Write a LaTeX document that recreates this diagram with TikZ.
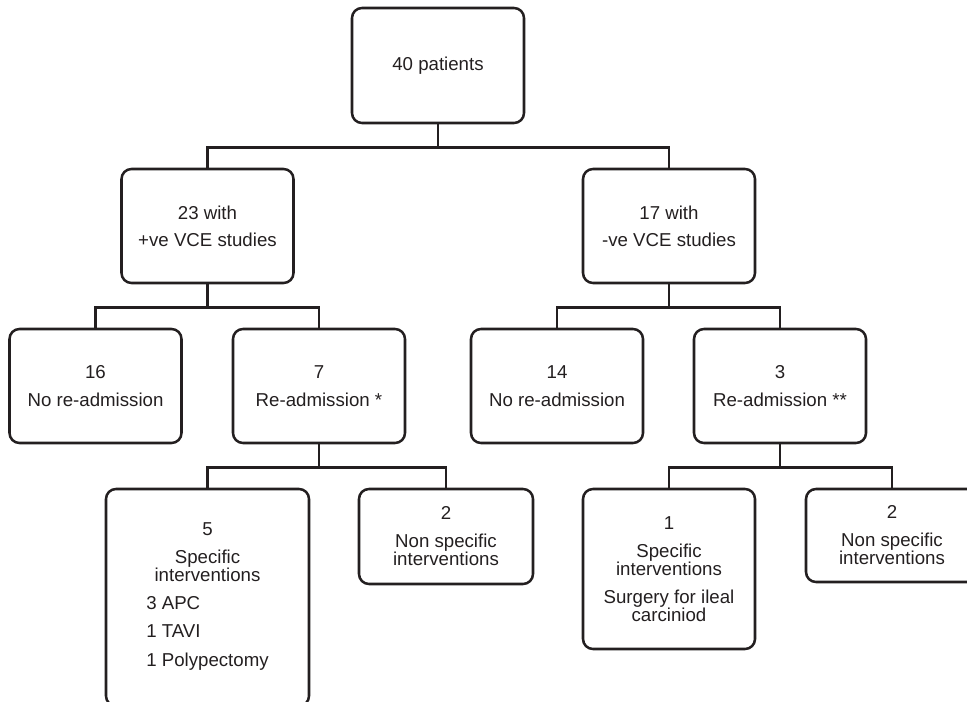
\documentclass[tikz,border=0pt]{standalone}
\usepackage{fontspec}
\setmainfont{Liberation Sans}
\definecolor{ink}{RGB}{35,31,32}
\tikzset{
  box/.style={draw=ink, text=ink, line width=1.9pt, rounded corners=7.5pt,
    align=center, inner sep=2pt, minimum width=129pt, minimum height=85.5pt,
    font=\fontsize{14}{13.5}\selectfont},
}

\begin{document}
\begin{tikzpicture}[x=0.75pt, y=-0.75pt, ink, line width=1.9pt]
  \clip (0,0) rectangle (967,702);
  % level 0
  \node[box, minimum height=86.25pt] (all) at (438,65.5) {40 patients};
  % level 1
  \node[box] (pos) at (207.5,226) {23 with\\[7pt]+ve VCE studies};
  \node[box] (neg) at (669,226) {17 with\\[7pt]-ve VCE studies};
  % level 2
  \node[box] (noA) at (95.5,386) {16\\[7.5pt]No re-admission};
  \node[box] (reA) at (319,386) {7\\[7.5pt]Re-admission *};
  \node[box] (noB) at (557,386) {14\\[7.5pt]No re-admission};
  \node[box] (reB) at (780,386) {3\\[7.5pt]Re-admission **};
  % level 3
  \node[box, minimum width=152.25pt, minimum height=162.75pt] (specA) at (207.5,597.5)
    {5\\[7.5pt]Specific\\interventions\\[7.5pt]%
     \begin{tabular}[t]{@{}l@{}}3 APC\\[7.5pt]1 TAVI\\[7.5pt]1 Polypectomy\end{tabular}};
  \node[box, minimum width=130.5pt, minimum height=71.25pt] (nonA) at (446,536.5)
    {2\\[7.5pt]Non specific\\interventions};
  \node[box, minimum height=120pt] (specB) at (669,569)
    {1\\[7.5pt]Specific\\interventions\\[7.5pt]Surgery for ileal\\carciniod};
  \node[box, minimum height=69.75pt] (nonB) at (892,535.5)
    {2\\[7.5pt]Non specific\\interventions};
  % connectors
  \foreach \p/\c in {all/pos, all/neg, pos/noA, pos/reA, neg/noB, neg/reB,
                     reA/specA, reA/nonA, reB/specB, reB/nonB} {
    \draw (\p.south) -- ++(0,23) -| (\c.north);
  }
\end{tikzpicture}
\end{document}
